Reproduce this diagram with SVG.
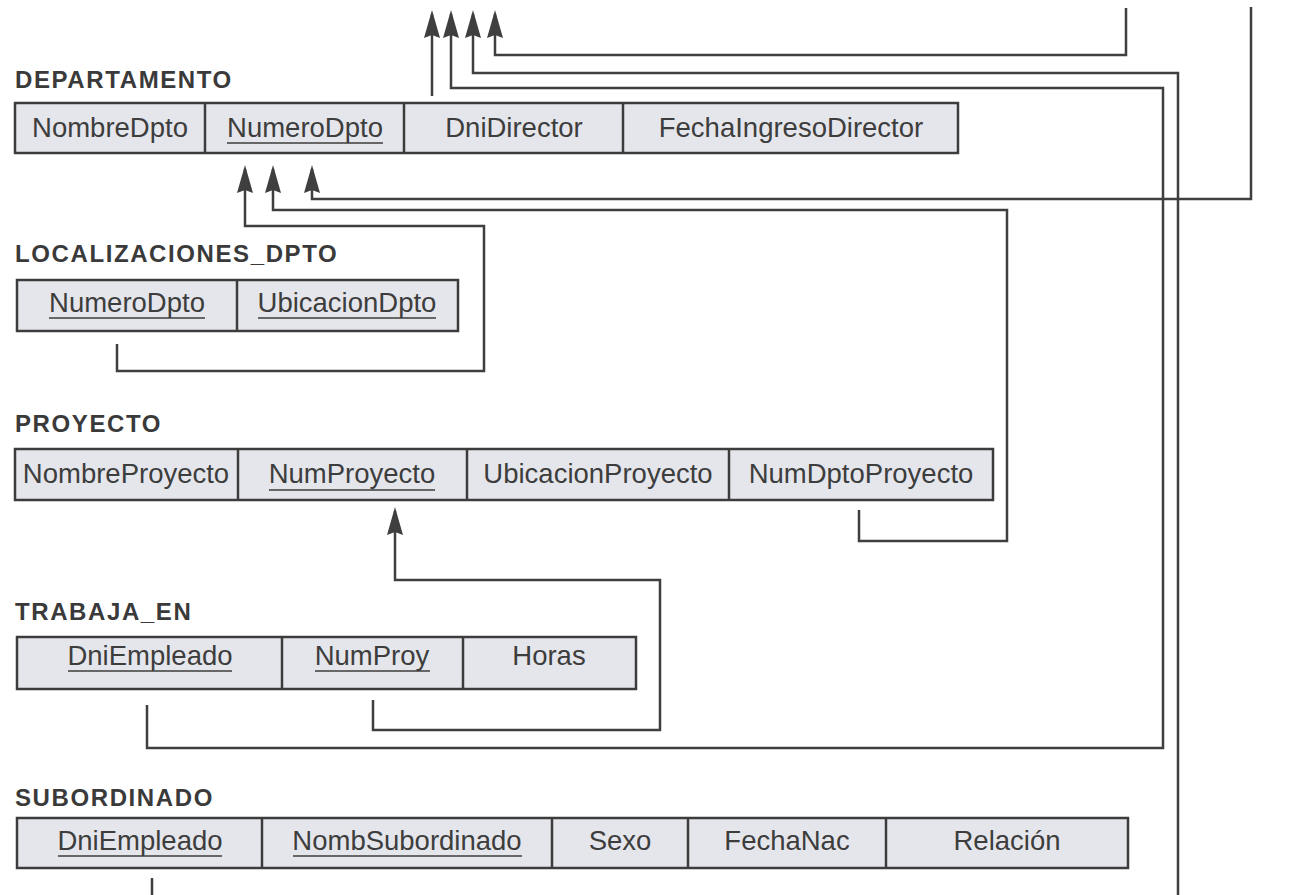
<svg xmlns="http://www.w3.org/2000/svg" width="1305" height="895" viewBox="0 0 1305 895">
<style>
.title{font-family:"Liberation Sans",Arial,sans-serif;font-weight:bold;font-size:24px;letter-spacing:1.6px;fill:#3a3a3a}
.attr{font-family:"Liberation Sans",Arial,sans-serif;font-size:27.5px;fill:#3d3d3d;text-anchor:middle}
.box{fill:#e5e6eb;stroke:#3c3c3c;stroke-width:2.5}
.div{stroke:#3c3c3c;stroke-width:2.5}
.ul{stroke:#3d3d3d;stroke-width:1.6}
.conn{fill:none;stroke:#3f3f3f;stroke-width:2.5}
</style>
<defs>
<marker id="arr" markerUnits="userSpaceOnUse" markerWidth="30" markerHeight="18" viewBox="0 0 30 18" refX="24" refY="8" orient="auto">
<path d="M0,0 L28,8 L0,16 L3,8 z" fill="#3f3f3f"/>
</marker>
</defs>
<rect width="1305" height="895" fill="#ffffff"/>

<g id="departamento">
<text class="title" x="15" y="88">DEPARTAMENTO</text>
<rect class="box" x="15" y="103" width="943" height="50"/>
<line class="div" x1="205" y1="103" x2="205" y2="153"/>
<line class="div" x1="404" y1="103" x2="404" y2="153"/>
<line class="div" x1="623" y1="103" x2="623" y2="153"/>
<text class="attr" x="110" y="137">NombreDpto</text>
<text class="attr" x="305" y="137">NumeroDpto</text>
<line class="ul" x1="227" y1="143" x2="383" y2="143"/>
<text class="attr" x="514" y="137">DniDirector</text>
<text class="attr" x="791" y="137">FechaIngresoDirector</text>
</g>

<g id="localizaciones_dpto">
<text class="title" x="15" y="262">LOCALIZACIONES_DPTO</text>
<rect class="box" x="17" y="280" width="441" height="51"/>
<line class="div" x1="237" y1="280" x2="237" y2="331"/>
<text class="attr" x="127" y="312">NumeroDpto</text>
<line class="ul" x1="49" y1="318" x2="205" y2="318"/>
<text class="attr" x="347" y="312">UbicacionDpto</text>
<line class="ul" x1="258" y1="318" x2="436" y2="318"/>
</g>

<g id="proyecto">
<text class="title" x="15" y="432">PROYECTO</text>
<rect class="box" x="15" y="449" width="978" height="51"/>
<line class="div" x1="238" y1="449" x2="238" y2="500"/>
<line class="div" x1="467" y1="449" x2="467" y2="500"/>
<line class="div" x1="729" y1="449" x2="729" y2="500"/>
<text class="attr" x="126" y="483">NombreProyecto</text>
<text class="attr" x="352" y="483">NumProyecto</text>
<line class="ul" x1="269" y1="490" x2="435" y2="490"/>
<text class="attr" x="598" y="483">UbicacionProyecto</text>
<text class="attr" x="861" y="483">NumDptoProyecto</text>
</g>

<g id="trabaja_en">
<text class="title" x="15" y="620">TRABAJA_EN</text>
<rect class="box" x="17" y="637" width="619" height="52"/>
<line class="div" x1="282" y1="637" x2="282" y2="689"/>
<line class="div" x1="463" y1="637" x2="463" y2="689"/>
<text class="attr" x="150" y="665">DniEmpleado</text>
<line class="ul" x1="68" y1="671" x2="232" y2="671"/>
<text class="attr" x="372" y="665">NumProy</text>
<line class="ul" x1="315" y1="671" x2="430" y2="671"/>
<text class="attr" x="549" y="665">Horas</text>
</g>

<g id="subordinado">
<text class="title" x="15" y="806">SUBORDINADO</text>
<rect class="box" x="17" y="818" width="1111" height="50"/>
<line class="div" x1="262" y1="818" x2="262" y2="868"/>
<line class="div" x1="552" y1="818" x2="552" y2="868"/>
<line class="div" x1="688" y1="818" x2="688" y2="868"/>
<line class="div" x1="886" y1="818" x2="886" y2="868"/>
<text class="attr" x="140" y="850">DniEmpleado</text>
<line class="ul" x1="58" y1="856" x2="222" y2="856"/>
<text class="attr" x="407" y="850">NombSubordinado</text>
<line class="ul" x1="293" y1="856" x2="522" y2="856"/>
<text class="attr" x="620" y="850">Sexo</text>
<text class="attr" x="787" y="850">FechaNac</text>
<text class="attr" x="1007" y="850">Relación</text>
</g>

<g id="connectors">
<path class="conn" d="M432,96 V14" marker-end="url(#arr)"/>
<path class="conn" d="M147,705 V748 H1163 V88 H451 V14" marker-end="url(#arr)"/>
<path class="conn" d="M1178,895 V73 H473 V14" marker-end="url(#arr)"/>
<path class="conn" d="M152,878 V895"/>
<path class="conn" d="M1126,8 V55 H495 V14" marker-end="url(#arr)"/>
<path class="conn" d="M117,344 V371 H484 V226 H245 V169" marker-end="url(#arr)"/>
<path class="conn" d="M859,510 V541 H1007 V210 H273 V169" marker-end="url(#arr)"/>
<path class="conn" d="M1251,7 V199 H312 V169" marker-end="url(#arr)"/>
<path class="conn" d="M373,700 V730 H660 V580 H395 V511" marker-end="url(#arr)"/>
</g>
</svg>
